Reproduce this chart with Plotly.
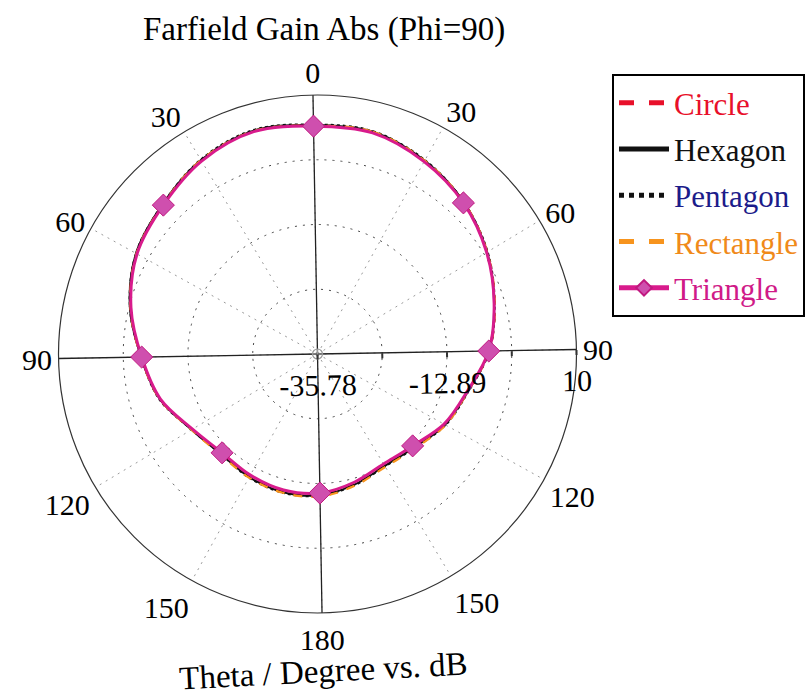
import plotly.graph_objects as go

# Theta sweep (degrees) for the Phi=90 cut, closed at 360
theta = list(range(0, 361, 15))

# Farfield gain (dB) per patch shape
circle    = [4.6, 4.6, 3.2, 1.4, -0.8, -3.2, -5.4, -8.4, -10.0, -12.1, -12.8, -11.9, -10.9,
             -10.7, -11.0, -11.3, -9.9, -6.8, -4.6, -1.7, 0.8, 2.2, 4.1, 5.2, 4.6]
hexagon   = [4.7, 4.7, 3.3, 1.5, -0.8, -3.3, -5.5, -8.4, -10.0, -12.0, -12.7, -11.8, -10.8,
             -10.6, -10.9, -11.2, -9.8, -6.8, -4.6, -1.6, 0.9, 2.3, 4.2, 5.3, 4.7]
pentagon  = [4.8, 4.8, 3.4, 1.5, -0.7, -3.2, -5.4, -8.3, -9.9, -11.9, -12.6, -11.7, -10.7,
             -10.5, -10.8, -11.2, -9.8, -6.7, -4.6, -1.6, 0.9, 2.3, 4.3, 5.4, 4.8]
rectangle = [4.6, 4.7, 3.3, 1.5, -0.8, -3.2, -5.5, -8.4, -9.9, -11.8, -12.5, -11.6, -10.6,
             -10.5, -10.8, -11.1, -9.8, -6.8, -4.6, -1.7, 0.8, 2.2, 4.2, 5.2, 4.6]
triangle  = [4.5, 4.5, 3.1, 1.35, -0.9, -3.3, -5.5, -8.5, -10.2, -12.4, -13.1, -12.2, -11.2,
             -11.0, -11.3, -11.5, -10.0, -6.9, -4.7, -1.8, 0.7, 2.1, 4.0, 5.1, 4.5]

# Axis definitions
r_min, r_max = -35.78, 10.0
r_ticks = [-35.78, -24.335, -12.89, -1.445, 10.0]
r_tick_text = ["-35.78", "", "-12.89", "", "10"]
angle_ticks = list(range(0, 360, 30))
angle_tick_text = ["0", "30", "60", "90", "120", "150", "180", "150", "120", "90", "60", "30"]

FONT = "Liberation Serif, Times New Roman, serif"
TILT = 1.0  # slight counter-clockwise tilt of the whole polar frame

fig = go.Figure()

# Solid cross through the origin (0/180 and 90/270 axes)
for a in (0, 90):
    fig.add_trace(go.Scatterpolar(
        r=[r_max, r_min, r_max], theta=[a, a, a + 180], mode="lines",
        line=dict(color="#222", width=1.3), showlegend=False, hoverinfo="skip"))

# Origin marker
fig.add_trace(go.Scatterpolar(
    r=[r_min], theta=[0], mode="markers",
    marker=dict(symbol="circle-cross-open", size=10, color="#9a9a9a", line=dict(width=1.2)),
    showlegend=False, hoverinfo="skip"))

series = [
    ("Circle", circle, "#e8102a", "dash", 2.2, "#e8102a"),
    ("Hexagon", hexagon, "#111111", "solid", 2.0, "#111111"),
    ("Pentagon", pentagon, "#111111", "dot", 2.0, "#1c1c8a"),
    ("Rectangle", rectangle, "#f7941d", "dash", 2.2, "#f08a1a"),
]
for name, vals, col, dash, w, txt in series:
    fig.add_trace(go.Scatterpolar(
        r=vals, theta=theta, mode="lines", line=dict(color=col, dash=dash, width=w, shape="spline"),
        name=f'<span style="color:{txt}">{name}</span>', legendgroup=name))

# Triangle curve with diamond markers every 45 degrees
tri_sizes = [17 if (t % 45 == 0 and t < 360) else 0 for t in theta]
fig.add_trace(go.Scatterpolar(
    r=triangle, theta=theta, mode="lines+markers",
    line=dict(color="#d81b8c", width=3, shape="spline"),
    marker=dict(symbol="diamond", size=tri_sizes, color="#cf4fae", opacity=1,
                line=dict(color="#c0187f", width=1)),
    name='<span style="color:#d01a88">Triangle</span>', legendgroup="Triangle"))

cx, cy, R = 317.5, 354.0, 259.0
W, H = 812, 699

fig.update_layout(
    width=W, height=H,
    margin=dict(l=0, r=0, t=0, b=0),
    paper_bgcolor="white",
    font=dict(family=FONT, size=30, color="black"),
    showlegend=True,
    legend=dict(
        x=612 / W, y=1 - 74 / H, xanchor="left", yanchor="top",
        bordercolor="black", borderwidth=2, bgcolor="white",
        font=dict(family=FONT, size=31), itemwidth=50, tracegroupgap=3,
        itemsizing="constant"),
    polar=dict(
        domain=dict(x=[(cx - R) / W, (cx + R) / W], y=[(H - cy - R) / H, (H - cy + R) / H]),
        bgcolor="white",
        angularaxis=dict(
            direction="clockwise", rotation=90 + TILT,
            tickmode="array", tickvals=angle_ticks, ticktext=angle_tick_text,
            showline=True, linecolor="#333", linewidth=1.2,
            showgrid=True, gridcolor="#9a9a9a", griddash="2px,5px", gridwidth=1,
            ticks="",
            tickfont=dict(family=FONT, size=30, color="black")),
        radialaxis=dict(
            range=[r_min, r_max], angle=TILT, side="clockwise",
            tickmode="array", tickvals=r_ticks, ticktext=r_tick_text, tickangle=0,
            showline=False, showgrid=True, gridcolor="#444", griddash="2px,6px", gridwidth=1,
            ticks="outside", ticklen=5, tickcolor="#333", tickwidth=1.5,
            tickfont=dict(family=FONT, size=30, color="black")),
    ),
    annotations=[
        dict(text="Farfield Gain Abs (Phi=90)", x=324 / W, y=1 - 30 / H, xref="paper", yref="paper",
             showarrow=False, font=dict(family=FONT, size=33, color="black"), xanchor="center", yanchor="middle"),
        dict(text="Theta / Degree vs. dB", x=323 / W, y=1 - 671 / H, xref="paper", yref="paper",
             showarrow=False, textangle=-3, font=dict(family=FONT, size=33, color="black"),
             xanchor="center", yanchor="middle"),
    ],
)

fig.write_html("out.html")
